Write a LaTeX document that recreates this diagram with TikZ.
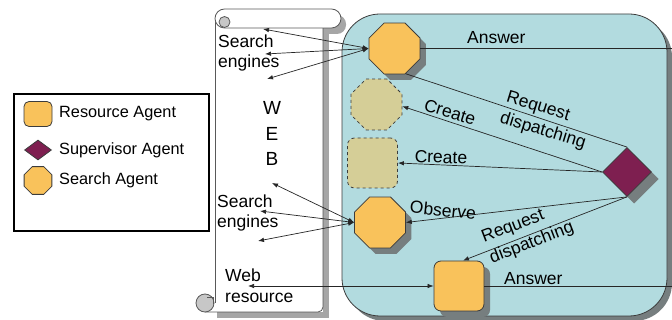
\documentclass[tikz,border=0pt]{standalone}
\usepackage{fontspec}
\setmainfont{Liberation Sans}
\usetikzlibrary{shapes.geometric,arrows.meta}
\definecolor{agentorange}{RGB}{249,194,91}
\definecolor{ghostkhaki}{RGB}{213,206,151}
\definecolor{suppurple}{RGB}{126,31,80}
\definecolor{boxteal}{RGB}{178,219,223}
\definecolor{outline}{RGB}{60,60,60}
\definecolor{shadowgray}{RGB}{118,126,127}
\begin{document}
\begin{tikzpicture}[x=1pt,y=-1pt,
  octshape/.style={regular polygon,regular polygon sides=8,minimum size=55pt,inner sep=0pt},
  sqshape/.style={rectangle,rounded corners=7pt,minimum size=50pt,inner sep=0pt},
  diashape/.style={diamond,minimum width=49pt,minimum height=49pt,inner sep=0pt},
  searchagent/.style={octshape,draw=outline,line width=0.8pt,fill=agentorange},
  resagent/.style={sqshape,draw=outline,line width=0.8pt,fill=agentorange},
  supagent/.style={diashape,draw=outline,line width=0.8pt,fill=suppurple},
  ghostoct/.style={octshape,draw=outline,dashed,line width=0.8pt,fill=ghostkhaki},
  ghostsq/.style={sqshape,draw=outline,dashed,line width=0.8pt,fill=ghostkhaki},
  lbl/.style={font=\fontsize{17.5}{22}\selectfont,inner sep=0pt},
  leglbl/.style={font=\fontsize{16.3}{18}\selectfont,inner sep=0pt,anchor=west},
  conn/.style={draw=black!85,line width=0.7pt},
  arr/.style={conn,-{Latex[length=6pt,width=4.5pt]}},
  darr/.style={conn,{Latex[length=6pt,width=4.5pt]}-{Latex[length=6pt,width=4.5pt]}},
  scrollline/.style={draw=black!65,line width=0.8pt},
  scrollshadow/.style={fill=black!35}]
\useasboundingbox (0,0) rectangle (672,320);

% ---------- scroll (WEB) ----------
\fill[scrollshadow] (217,33) rectangle (329,318);
\fill[scrollshadow,rounded corners=9pt] (221,15) rectangle (346,34);
\fill[white] (215,20) rectangle (323,312);
\draw[scrollline] (215,20) -- (215,303);
\draw[scrollline,rounded corners=5pt] (205,312) -- (323,312) -- (323,20);
\draw[scrollline,fill=black!22] (205,303) circle (9);
\draw[scrollline] (207,297) -- (213,297) -- (213,304);
\draw[scrollline,fill=white,rounded corners=9.5pt] (215,9) rectangle (341,28);
\draw[scrollline,fill=black!22] (224.5,22) circle (5.5);

\node[lbl,anchor=base west] (se1a) at (218,48) {Search};
\node[lbl,anchor=base west] (se1b) at (218,68) {engines};
\node[lbl,font=\fontsize{19}{22}\selectfont,anchor=base] (w) at (272,115) {W};
\node[lbl,font=\fontsize{19}{22}\selectfont,anchor=base] (e) at (272,141) {E};
\node[lbl,font=\fontsize{19}{22}\selectfont,anchor=base] (b) at (272,166) {B};
\node[lbl,anchor=base west] (se2a) at (217,208) {Search};
\node[lbl,anchor=base west] (se2b) at (217,228) {engines};
\node[lbl,anchor=base west] (wr1) at (225,282) {Web};
\node[lbl,anchor=base west] (wr2) at (225,303) {resource};

% ---------- agent system box ----------
\fill[shadowgray,rounded corners=38pt] (347,19) rectangle (672,321);
\draw[fill=boxteal,draw=outline,line width=0.8pt,rounded corners=38pt] (342,14) rectangle (667,316);

% ---------- legend ----------
\node[draw=black,line width=2pt,minimum width=195pt,minimum height=137pt,inner sep=0pt] (legend) at (111.5,163) {};
\node[rectangle,rounded corners=5pt,minimum width=28pt,minimum height=25pt,inner sep=0pt,draw=outline,line width=0.8pt,fill=agentorange] (lres) at (38,114) {};
\node[diamond,minimum width=27pt,minimum height=20pt,inner sep=0pt,draw=outline,line width=0.8pt,fill=suppurple] (lsup) at (38,150) {};
\node[regular polygon,regular polygon sides=8,minimum size=30pt,inner sep=0pt,draw=outline,line width=0.8pt,fill=agentorange] (lsea) at (38,180.5) {};
\node[leglbl] (tres) at (59,114) {Resource Agent};
\node[leglbl] (tsup) at (59,150) {Supervisor Agent};
\node[leglbl] (tsea) at (59,180) {Search Agent};

% ---------- agent shadows ----------
\fill[shadowgray] (400.5,54.5) +(25.4,10.5) -- +(10.5,25.4) -- +(-10.5,25.4) -- +(-25.4,10.5) -- +(-25.4,-10.5) -- +(-10.5,-25.4) -- +(10.5,-25.4) -- +(25.4,-10.5) -- cycle;
\fill[shadowgray] (386,228.5) +(25.4,10.5) -- +(10.5,25.4) -- +(-10.5,25.4) -- +(-25.4,10.5) -- +(-25.4,-10.5) -- +(-10.5,-25.4) -- +(10.5,-25.4) -- +(25.4,-10.5) -- cycle;
\fill[shadowgray,rounded corners=7pt] (440,267) rectangle (490,317);
\fill[shadowgray] (634,179) +(24.5,0) -- +(0,24.5) -- +(-24.5,0) -- +(0,-24.5) -- cycle;

% ---------- agents ----------
\node[searchagent] (top) at (394.5,48.5) {};
\node[ghostoct] (doct) at (376.5,104.5) {};
\node[ghostsq] (dsq) at (372.5,163) {};
\node[searchagent] (low) at (380,222.5) {};
\node[resagent] (res) at (459,286) {};
\node[supagent] (sup) at (627,172) {};

% ---------- free ends ----------
\coordinate (t1) at (263,29);
\coordinate (t2) at (265,54);
\coordinate (t3) at (267,79);
\coordinate (l1) at (272,183);
\coordinate (l2) at (260,211);
\coordinate (l3) at (258,241);
\coordinate (web) at (248,286);
\coordinate (ans1) at (672,48.5);
\coordinate (ans2) at (672,286);

% ---------- connectors ----------
\draw[darr] (top.west) -- (t1);
\draw[darr] (top.west) -- (t2);
\draw[darr] (top.west) -- (t3);
\draw[darr] (low.west) -- (l1);
\draw[darr] (low.west) -- (l2);
\draw[darr] (low.west) -- (l3);
\draw[darr] (web) -- (res.west);
\draw[conn] (top.east) -- (ans1);
\draw[conn] (res.east) -- (ans2);
\draw[conn] (sup.north) -- (top.-66);
\draw[arr] (sup.west) -- (doct.-4);
\draw[arr] (sup.west) -- (dsq.east);
\draw[arr] (sup.south) -- (low.east);
\draw[arr] (sup.south) -- ([xshift=4pt]res.north);

% ---------- connector labels ----------
\node[lbl,anchor=base west] (lans1) at (467,44) {Answer};
\node[lbl,anchor=base west] (lans2) at (504,285) {Answer};
\node[lbl,align=left,rotate=-17] (lreq1) at (546,121) {Request\\dispatching};
\node[lbl,align=left,rotate=21] (lreq2) at (528,233) {Request\\dispatching};
\node[lbl,rotate=-17] (lcr1) at (450,112) {Create};
\node[lbl,rotate=-2] (lcr2) at (441,157) {Create};
\node[lbl,rotate=-6] (lobs) at (443,210) {Observe};
\end{tikzpicture}
\end{document}
